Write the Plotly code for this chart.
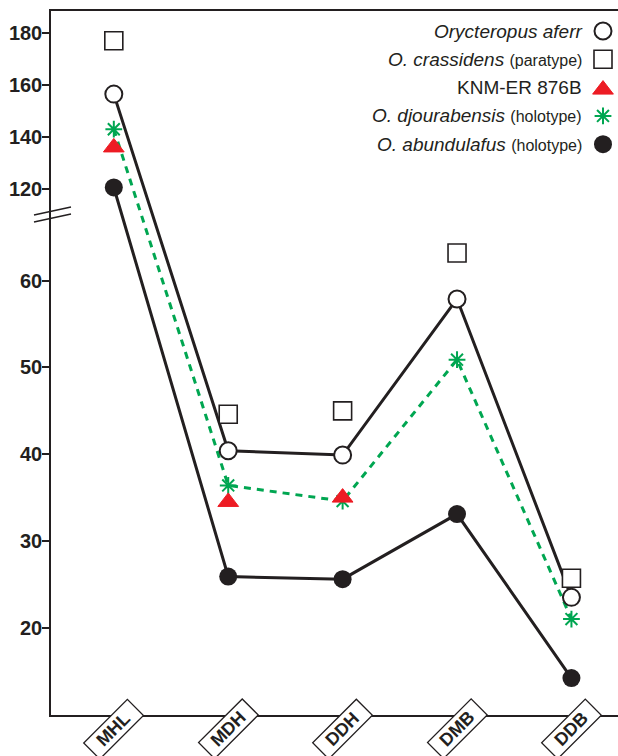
import plotly.graph_objects as go

# ---------------- data ----------------
categories = ["MHL", "MDH", "DDH", "DMB", "DDB"]
afer = [156.5, 40.4, 39.9, 57.9, 23.5]            # Orycteropus afer
crassidens = [177.0, 44.6, 45.0, 63.2, 25.7]      # O. crassidens (paratype)
knm_er_876b = [136.0, 34.5, 35.0, None, None]     # KNM-ER 876B
djourabensis = [143.0, 36.4, 34.6, 50.9, 21.0]    # O. djourabensis (holotype)
abundulafus = [120.6, 25.9, 25.6, 33.1, 14.2]     # O. abundulafus (holotype)

y_ticks = [20, 30, 40, 50, 60, 120, 140, 160, 180]

# ---------------- styling ----------------
INK = "#231f20"
RED = "#ed1c24"
GREEN = "#00a651"
FONT = "Liberation Sans, Arial, sans-serif"

W, H = 618, 756
# plot box in window pixels: left 51, top 11, bottom 715, right 618
ML, MT, MR = 51, 11, 0
MB = H - 715
PW, PH = W - ML - MR, H - MT - MB

# broken y axis: lower segment linear, upper segment compressed
UPPER_BASE = 120.0
UPPER_BASE_T = 70.57
UPPER_SCALE = 0.2997
Y_RANGE = [9.94, 91.09]


def T(v):
    if v is None:
        return None
    if v > 100:
        return UPPER_BASE_T + (v - UPPER_BASE) * UPPER_SCALE
    return v


def Ts(vals):
    return [T(v) for v in vals]


def px2paper(px, py):
    """window pixel -> paper fraction"""
    return (px - ML) / PW, (H - MB - py) / PH


fig = go.Figure()

# connecting lines
fig.add_trace(go.Scatter(x=categories, y=Ts(afer), mode="lines",
                         line=dict(color=INK, width=3), hoverinfo="skip"))
fig.add_trace(go.Scatter(x=categories, y=Ts(abundulafus), mode="lines",
                         line=dict(color=INK, width=3), hoverinfo="skip"))
fig.add_trace(go.Scatter(x=categories, y=Ts(djourabensis), mode="lines",
                         line=dict(color=GREEN, width=3, dash="7px,6px"),
                         hoverinfo="skip"))

# markers
SQ = dict(symbol="square", size=18, color="white", line=dict(color=INK, width=1.6))
OC = dict(symbol="circle", size=17, color="white", line=dict(color=INK, width=2))
AS = dict(symbol="asterisk-open", size=14, color=GREEN, line=dict(color=GREEN, width=2))
TR = dict(symbol="triangle-up", size=18, color=RED, line=dict(color=RED, width=1))
FC = dict(symbol="circle", size=18, color=INK, line=dict(color=INK, width=0))

fig.add_trace(go.Scatter(x=categories, y=Ts(crassidens), mode="markers", marker=SQ))
fig.add_trace(go.Scatter(x=categories, y=Ts(afer), mode="markers", marker=OC))
fig.add_trace(go.Scatter(x=categories, y=Ts(djourabensis), mode="markers", marker=AS))
fig.add_trace(go.Scatter(x=categories, y=Ts(knm_er_876b), mode="markers", marker=TR))
fig.add_trace(go.Scatter(x=categories, y=Ts(abundulafus), mode="markers", marker=FC))

# ---------------- custom legend (text left of symbol) ----------------
legend_labels = [
    "<i>Orycteropus aferr</i>",
    "<i>O. crassidens</i> <span style='font-size:16px'>(paratype)</span>",
    "KNM-ER 876B",
    "<i>O. djourabensis</i> <span style='font-size:16px'>(holotype)</span>",
    "<i>O. abundulafus</i> <span style='font-size:16px'>(holotype)</span>",
]
legend_markers = [OC, SQ, TR, AS, FC]
LEG_Y0, LEG_DY = 31.0, 28.3        # window pixels
LEG_TEXT_X, LEG_SYM_X = 584, 603
leg_y = [LEG_Y0 + i * LEG_DY for i in range(len(legend_labels))]

for i, mk in enumerate(legend_markers):
    yy = leg_y[i] + (2 if mk is TR else 0)
    fig.add_trace(go.Scatter(x=[LEG_SYM_X], y=[yy], mode="markers", marker=mk,
                             xaxis="x2", yaxis="y2", hoverinfo="skip"))

annotations = []
for i, lab in enumerate(legend_labels):
    annotations.append(dict(x=LEG_TEXT_X, y=leg_y[i], xref="x2", yref="y2",
                            text=lab, showarrow=False, xanchor="right",
                            yanchor="middle",
                            font=dict(family=FONT, size=19, color=INK)))

# boxed, rotated category labels
for c in categories:
    annotations.append(dict(x=c, y=0, xref="x", yref="paper", text="<b>%s</b>" % c,
                            showarrow=False, textangle=-45, xanchor="center",
                            yanchor="middle", yshift=-14, xshift=0,
                            width=59, height=20, borderpad=0.5,
                            bordercolor=INK, borderwidth=1.3, bgcolor="white",
                            font=dict(family=FONT, size=18, color=INK)))

# axis-break marks
shapes = []
for (x0, y0, x1, y1) in [(34, 215, 71, 207), (34, 222, 71, 214)]:
    a0, b0 = px2paper(x0, y0)
    a1, b1 = px2paper(x1, y1)
    shapes.append(dict(type="line", xref="paper", yref="paper",
                       x0=a0, y0=b0, x1=a1, y1=b1,
                       line=dict(color=INK, width=1.5)))

fig.update_layout(
    width=W, height=H,
    margin=dict(l=ML, r=MR, t=MT, b=MB, pad=0),
    paper_bgcolor="white", plot_bgcolor="white",
    showlegend=False,
    font=dict(family=FONT, color=INK),
    xaxis=dict(type="category", range=[-0.549, 4.407], showticklabels=False,
               ticks="", showgrid=False, zeroline=False,
               showline=True, mirror=True, linecolor=INK, linewidth=1.5),
    yaxis=dict(range=Y_RANGE, tickvals=Ts(y_ticks),
               ticktext=[str(v) for v in y_ticks],
               ticks="outside", ticklen=7, tickwidth=1.5, tickcolor=INK,
               ticklabelstandoff=-4,
               tickfont=dict(family=FONT, size=20, color=INK, weight="bold"),
               showgrid=False, zeroline=False,
               showline=True, linecolor=INK, linewidth=1.5),
    xaxis2=dict(overlaying="x", anchor="y2", range=[ML, W - MR], visible=False,
                fixedrange=True),
    yaxis2=dict(overlaying="y", anchor="x2", range=[H - MB, MT], visible=False,
                fixedrange=True),
    annotations=annotations,
    shapes=shapes,
)

fig.write_html(
    "out.html",
    config={"displayModeBar": False},
    post_script="document.body.style.margin='0';document.body.style.overflow='hidden';",
)
